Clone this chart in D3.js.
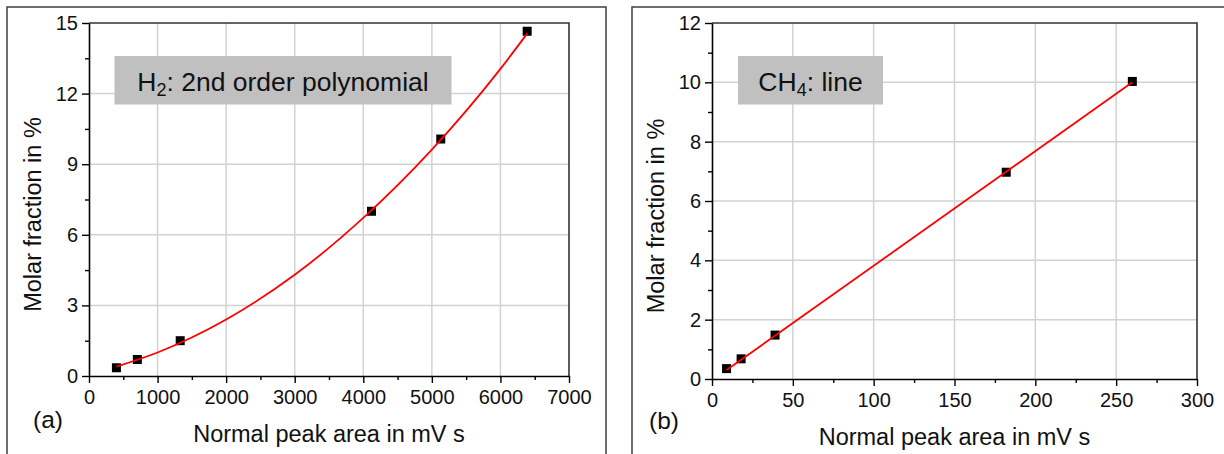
<!DOCTYPE html>
<html>
<head>
<meta charset="utf-8">
<script src="https://cdn.jsdelivr.net/npm/d3@7"></script>
<style>
  html, body { margin: 0; padding: 0; background: #fff; }
  svg { display: block; font-family: "Liberation Sans", Arial, sans-serif; }
</style>
</head>
<body>
<svg id="chart" width="1224" height="454"></svg>
<script>
// ---- Panel (a): H2 ----
const h2AreaX = [400, 705, 1330, 4120, 5130, 6390];
const h2Fraction = [0.35, 0.70, 1.50, 7.00, 10.07, 14.65];
const h2FitX = [400, 1000, 2000, 3000, 4000, 5000, 6000, 6390];
const h2FitY = [0.40, 1.00, 2.40, 4.30, 6.72, 9.62, 13.05, 14.55];
const h2XTicks = [0, 1000, 2000, 3000, 4000, 5000, 6000, 7000];
const h2YTicks = [0, 3, 6, 9, 12, 15];
const h2XMinor = [500, 1500, 2500, 3500, 4500, 5500, 6500];
const h2YMinor = [1.5, 4.5, 7.5, 10.5, 13.5];

// ---- Panel (b): CH4 ----
const ch4AreaX = [9, 18, 39, 182, 260];
const ch4Fraction = [0.35, 0.68, 1.48, 6.97, 10.03];
const ch4FitX = [9, 260];
const ch4FitY = [0.30, 10.00];
const ch4XTicks = [0, 50, 100, 150, 200, 250, 300];
const ch4YTicks = [0, 2, 4, 6, 8, 10, 12];
const ch4XMinor = [25, 75, 125, 175, 225, 275];
const ch4YMinor = [1, 3, 5, 7, 9, 11];

const xTitle = "Normal peak area in mV s";
const yTitle = "Molar fraction in %";

const svg = d3.select("#chart");

function panel(cfg) {
  const g = svg.append("g");
  // outer frame
  g.append("rect")
    .attr("x", cfg.frame[0]).attr("y", cfg.frame[1])
    .attr("width", cfg.frame[2]).attr("height", cfg.frame[3])
    .attr("fill", "none").attr("stroke", "#4a4a4a").attr("stroke-width", 1.6);

  const x = d3.scaleLinear().domain(cfg.xDomain).range([cfg.left, cfg.right]);
  const y = d3.scaleLinear().domain(cfg.yDomain).range([cfg.bottom, cfg.top]);

  // grid
  g.append("g").selectAll("line").data(cfg.xTicks.slice(1, -1)).join("line")
    .attr("x1", d => x(d)).attr("x2", d => x(d))
    .attr("y1", cfg.top).attr("y2", cfg.bottom)
    .attr("stroke", "#d2d2d2").attr("stroke-width", 1.5);
  g.append("g").selectAll("line").data(cfg.yTicks.slice(1, -1)).join("line")
    .attr("x1", cfg.left).attr("x2", cfg.right)
    .attr("y1", d => y(d)).attr("y2", d => y(d))
    .attr("stroke", "#d2d2d2").attr("stroke-width", 1.5);

  // top & right border
  g.append("path")
    .attr("d", `M${cfg.left},${cfg.top}H${cfg.right}V${cfg.bottom}`)
    .attr("fill", "none").attr("stroke", "#333").attr("stroke-width", 1.6);

  // minor ticks
  const xMin = g.append("g").attr("transform", `translate(0,${cfg.bottom})`)
    .call(d3.axisBottom(x).tickValues(cfg.xMinor).tickSize(4).tickFormat("").tickSizeOuter(0));
  const yMin = g.append("g").attr("transform", `translate(${cfg.left},0)`)
    .call(d3.axisLeft(y).tickValues(cfg.yMinor).tickSize(4).tickFormat("").tickSizeOuter(0));
  [xMin, yMin].forEach(a => { a.select(".domain").remove(); a.selectAll("line").attr("stroke", "#000").attr("stroke-width", 1.4); });

  // major axes
  const xa = g.append("g").attr("transform", `translate(0,${cfg.bottom})`)
    .call(d3.axisBottom(x).tickValues(cfg.xTicks).tickSize(7).tickSizeOuter(0).tickPadding(7).tickFormat(d3.format("d")));
  const ya = g.append("g").attr("transform", `translate(${cfg.left},0)`)
    .call(d3.axisLeft(y).tickValues(cfg.yTicks).tickSize(7).tickSizeOuter(0).tickPadding(4).tickFormat(d3.format("d")));
  [xa, ya].forEach(a => {
    a.select(".domain").attr("stroke", "#000").attr("stroke-width", 1.6);
    a.selectAll("line").attr("stroke", "#000").attr("stroke-width", 1.4);
    a.selectAll("text").attr("fill", "#111").attr("font-size", 20)
      .attr("font-family", "Liberation Sans, Arial, sans-serif");
  });

  // fit curve
  const line = d3.line().x((d, i) => x(cfg.fitX[i])).y(d => y(d)).curve(d3.curveMonotoneX);

  // points
  const s = 9;
  g.append("g").selectAll("rect").data(cfg.px).join("rect")
    .attr("x", (d) => x(d) - s / 2)
    .attr("y", (d, i) => y(cfg.py[i]) - s / 2)
    .attr("width", s).attr("height", s).attr("fill", "#000");
  // fit curve drawn over the markers
  g.append("path").datum(cfg.fitY).attr("d", line)
    .attr("fill", "none").attr("stroke", "#ff0000").attr("stroke-width", 1.8);

  // annotation box
  g.append("rect").attr("x", cfg.box[0]).attr("y", cfg.box[1])
    .attr("width", cfg.box[2]).attr("height", cfg.box[3]).attr("fill", "#c0c0c0");
  const t = g.append("text").attr("x", cfg.box[0] + cfg.box[2] / 2).attr("y", cfg.box[1] + 35)
    .attr("text-anchor", "middle").attr("font-size", 26.5).attr("fill", "#111");
  t.append("tspan").text(cfg.label[0]);
  t.append("tspan").attr("font-size", 18).attr("dy", 5).text(cfg.label[1]);
  t.append("tspan").attr("dy", -5).text(cfg.label[2]);

  // axis titles
  g.append("text").attr("x", (cfg.left + cfg.right) / 2).attr("y", cfg.xTitleY)
    .attr("text-anchor", "middle").attr("font-size", 23.5).attr("fill", "#111").text(xTitle);
  g.append("text")
    .attr("transform", `translate(${cfg.yTitleX},${(cfg.top + cfg.bottom) / 2 + 15}) rotate(-90)`)
    .attr("text-anchor", "middle").attr("font-size", 23.5).attr("fill", "#111").text(yTitle);

  // panel letter
  g.append("text").attr("x", cfg.letter[0]).attr("y", cfg.letter[1])
    .attr("font-size", 24.5).attr("fill", "#111").text(cfg.letter[2]);
}

panel({
  frame: [7, 7, 599, 460],
  left: 89, right: 569, top: 23, bottom: 376,
  xDomain: [0, 7000], yDomain: [0, 15],
  xTicks: h2XTicks, yTicks: h2YTicks, xMinor: h2XMinor, yMinor: h2YMinor,
  px: h2AreaX, py: h2Fraction, fitX: h2FitX, fitY: h2FitY,
  box: [114.5, 56, 337, 48.5], label: ["H", "2", ": 2nd order polynomial"],
  xTitleY: 442, yTitleX: 41,
  letter: [33, 428, "(a)"]
});

panel({
  frame: [632, 7, 640, 460],
  left: 712, right: 1197, top: 23, bottom: 379,
  xDomain: [0, 300], yDomain: [0, 12],
  xTicks: ch4XTicks, yTicks: ch4YTicks, xMinor: ch4XMinor, yMinor: ch4YMinor,
  px: ch4AreaX, py: ch4Fraction, fitX: ch4FitX, fitY: ch4FitY,
  box: [738, 56, 145, 48.5], label: ["CH", "4", ": line"],
  xTitleY: 445, yTitleX: 664,
  letter: [649, 429, "(b)"]
});
</script>
</body>
</html>
